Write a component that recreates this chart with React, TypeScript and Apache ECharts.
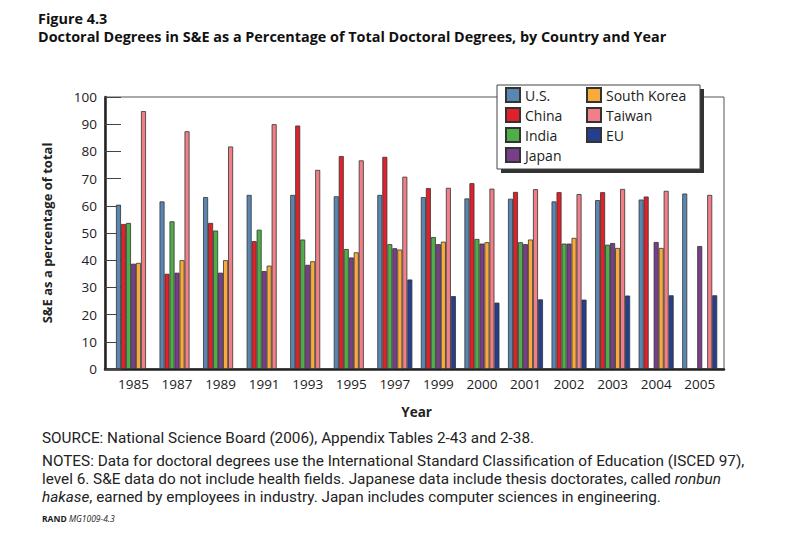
import React, { useEffect, useRef } from "react";
import * as echarts from "echarts";

const years = ["1985", "1987", "1989", "1991", "1993", "1995", "1997", "1999", "2000", "2001", "2002", "2003", "2004", "2005"];
const seriesNames = ["U.S.", "China", "India", "Japan", "South Korea", "Taiwan", "EU"];
const us = [60.4, 61.6, 63.2, 64.0, 64.0, 63.5, 64.0, 63.2, 62.7, 62.6, 61.6, 62.1, 62.3, 64.5];
const china = [53.3, 35.0, 53.7, 47.0, 89.5, 78.3, 78.0, 66.5, 68.3, 65.1, 65.0, 65.0, 63.4, null];
const india = [53.7, 54.3, 50.9, 51.2, 47.6, 44.1, 45.9, 48.5, 47.8, 46.6, 46.1, 45.7, null, null];
const japan = [38.7, 35.4, 35.4, 36.0, 38.3, 41.0, 44.4, 45.9, 46.1, 45.9, 46.1, 46.3, 46.7, 45.2];
const southKorea = [39.0, 40.0, 40.0, 38.0, 39.6, 42.9, 43.9, 46.8, 46.6, 47.6, 48.2, 44.5, 44.5, null];
const taiwan = [94.8, 87.4, 81.8, 90.0, 73.2, 76.7, 70.7, 66.6, 66.3, 66.1, 64.3, 66.2, 65.5, 64.0];
const eu = [null, null, null, null, null, null, 32.9, 26.8, 24.4, 25.6, 25.5, 27.0, 27.1, 27.1];
const colors = ["#5a86b2", "#e2202a", "#4fae48", "#7a3d8a", "#f8aa3a", "#f07f88", "#263e8e"];
const yTicks = { min: 0, max: 100, interval: 10 };

const FONT = "'Open Sans', 'Noto Sans', sans-serif";
const NOTE_FONT = "Roboto, 'Open Sans', sans-serif";
const NOTE_SIZE = 15.3;

export default function App() {
  const ref = useRef<HTMLDivElement>(null);
  useEffect(() => {
    document.body.style.margin = "0";
    const chart = echarts.init(ref.current!, null, { renderer: "svg" });
    const allData = [us, china, india, japan, southKorea, taiwan, eu];
    const legendBase = {
      orient: "vertical", top: 87, itemGap: 4, padding: 0,
      itemWidth: 14, itemHeight: 14, icon: "rect", z: 20,
      textStyle: { fontSize: 14, color: "#222", fontFamily: FONT },
    };
    const italic = { fontStyle: "italic", fontSize: NOTE_SIZE, lineHeight: 18, fontFamily: NOTE_FONT, fill: "#222" };
    const noteStyle = (text: string) => ({
      text, font: `${NOTE_SIZE}px ${NOTE_FONT}`, lineHeight: 18, fill: "#222", rich: { i: italic },
    });
    const option: any = {
      animation: false,
      backgroundColor: "#ffffff",
      textStyle: { fontFamily: FONT },
      grid: [
        { left: 105, right: 83, top: 97, bottom: 190, show: true, borderColor: "#555", borderWidth: 1, backgroundColor: "transparent" },
        { left: 111.7, right: 85.5, top: 97, bottom: 190 },
      ],
      xAxis: [
        {
          gridIndex: 0, type: "value", min: 0, max: 1,
          axisLine: { show: true, onZero: false, lineStyle: { color: "#222", width: 2.5 } },
          axisTick: { show: false }, axisLabel: { show: false }, splitLine: { show: false },
        },
        {
          gridIndex: 1, type: "category", data: years,
          axisLine: { show: false }, axisTick: { show: false },
          axisLabel: { color: "#222", fontSize: 13.5, margin: 8, fontFamily: FONT },
          name: "Year", nameLocation: "middle", nameGap: 36,
          nameTextStyle: { fontWeight: "bold", fontSize: 13.5, color: "#222", fontFamily: FONT },
        },
      ],
      yAxis: [
        {
          gridIndex: 0, type: "value", ...yTicks,
          axisLine: { show: true, lineStyle: { color: "#222", width: 2.5 } },
          axisTick: { show: true, inside: true, length: 16, lineStyle: { color: "#444", width: 1 } },
          axisLabel: { color: "#222", fontSize: 13.5, margin: 8, fontFamily: FONT },
          splitLine: { show: false },
          name: "S&E as a percentage of total", nameLocation: "middle", nameGap: 52, nameRotate: 90,
          nameTextStyle: { fontWeight: "bold", fontSize: 13, color: "#222", fontFamily: FONT },
        },
        {
          gridIndex: 1, type: "value", ...yTicks, show: false, splitLine: { show: false },
        },
      ],
      legend: [
        { ...legendBase, left: 505, data: seriesNames.slice(0, 4) },
        { ...legendBase, left: 586, data: seriesNames.slice(4) },
      ],
      graphic: [
        { type: "rect", z: 10, shape: { x: 501, y: 89, width: 203, height: 84 }, style: { fill: "#333" } },
        { type: "rect", z: 11, shape: { x: 497, y: 85, width: 203, height: 84 }, style: { fill: "#fff", stroke: "#444", lineWidth: 1 } },
        { type: "text", left: 38, top: 11, style: { text: "Figure 4.3", font: `bold 14.4px ${FONT}`, fill: "#111" } },
        { type: "text", left: 38, top: 29, style: { text: "Doctoral Degrees in S&E as a Percentage of Total Doctoral Degrees, by Country and Year", font: `bold 14.4px ${FONT}`, fill: "#111" } },
        { type: "text", left: 42, top: 429, style: noteStyle("SOURCE: National Science Board (2006), Appendix Tables 2-43 and 2-38.") },
        { type: "text", left: 42, top: 452, style: noteStyle("NOTES: Data for doctoral degrees use the International Standard Classification of Education (ISCED 97),") },
        { type: "text", left: 42, top: 470, style: noteStyle("level 6. S&E data do not include health fields. Japanese data include thesis doctorates, called {i|ronbun}") },
        { type: "text", left: 42, top: 488, style: noteStyle("{i|hakase}, earned by employees in industry. Japan includes computer sciences in engineering.") },
        {
          type: "text", left: 42, top: 514,
          style: {
            text: "{b|RAND} {i|MG1009-4.3}",
            font: `8.5px ${FONT}`, fill: "#222",
            rich: {
              b: { fontWeight: "bold", fontSize: 8.5, fontFamily: FONT, fill: "#222" },
              i: { fontStyle: "italic", fontSize: 8.5, fontFamily: FONT, fill: "#222" },
            },
          },
        },
      ],
      series: seriesNames.map((name, i) => ({
        name, type: "bar", xAxisIndex: 1, yAxisIndex: 1,
        data: allData[i], barWidth: 5, barGap: "0%",
        itemStyle: { color: colors[i], borderColor: "#333", borderWidth: 0.8 },
      })),
    };
    chart.setOption(option);
    return () => chart.dispose();
  }, []);
  return <div ref={ref} style={{ width: 807, height: 559 }} />;
}
